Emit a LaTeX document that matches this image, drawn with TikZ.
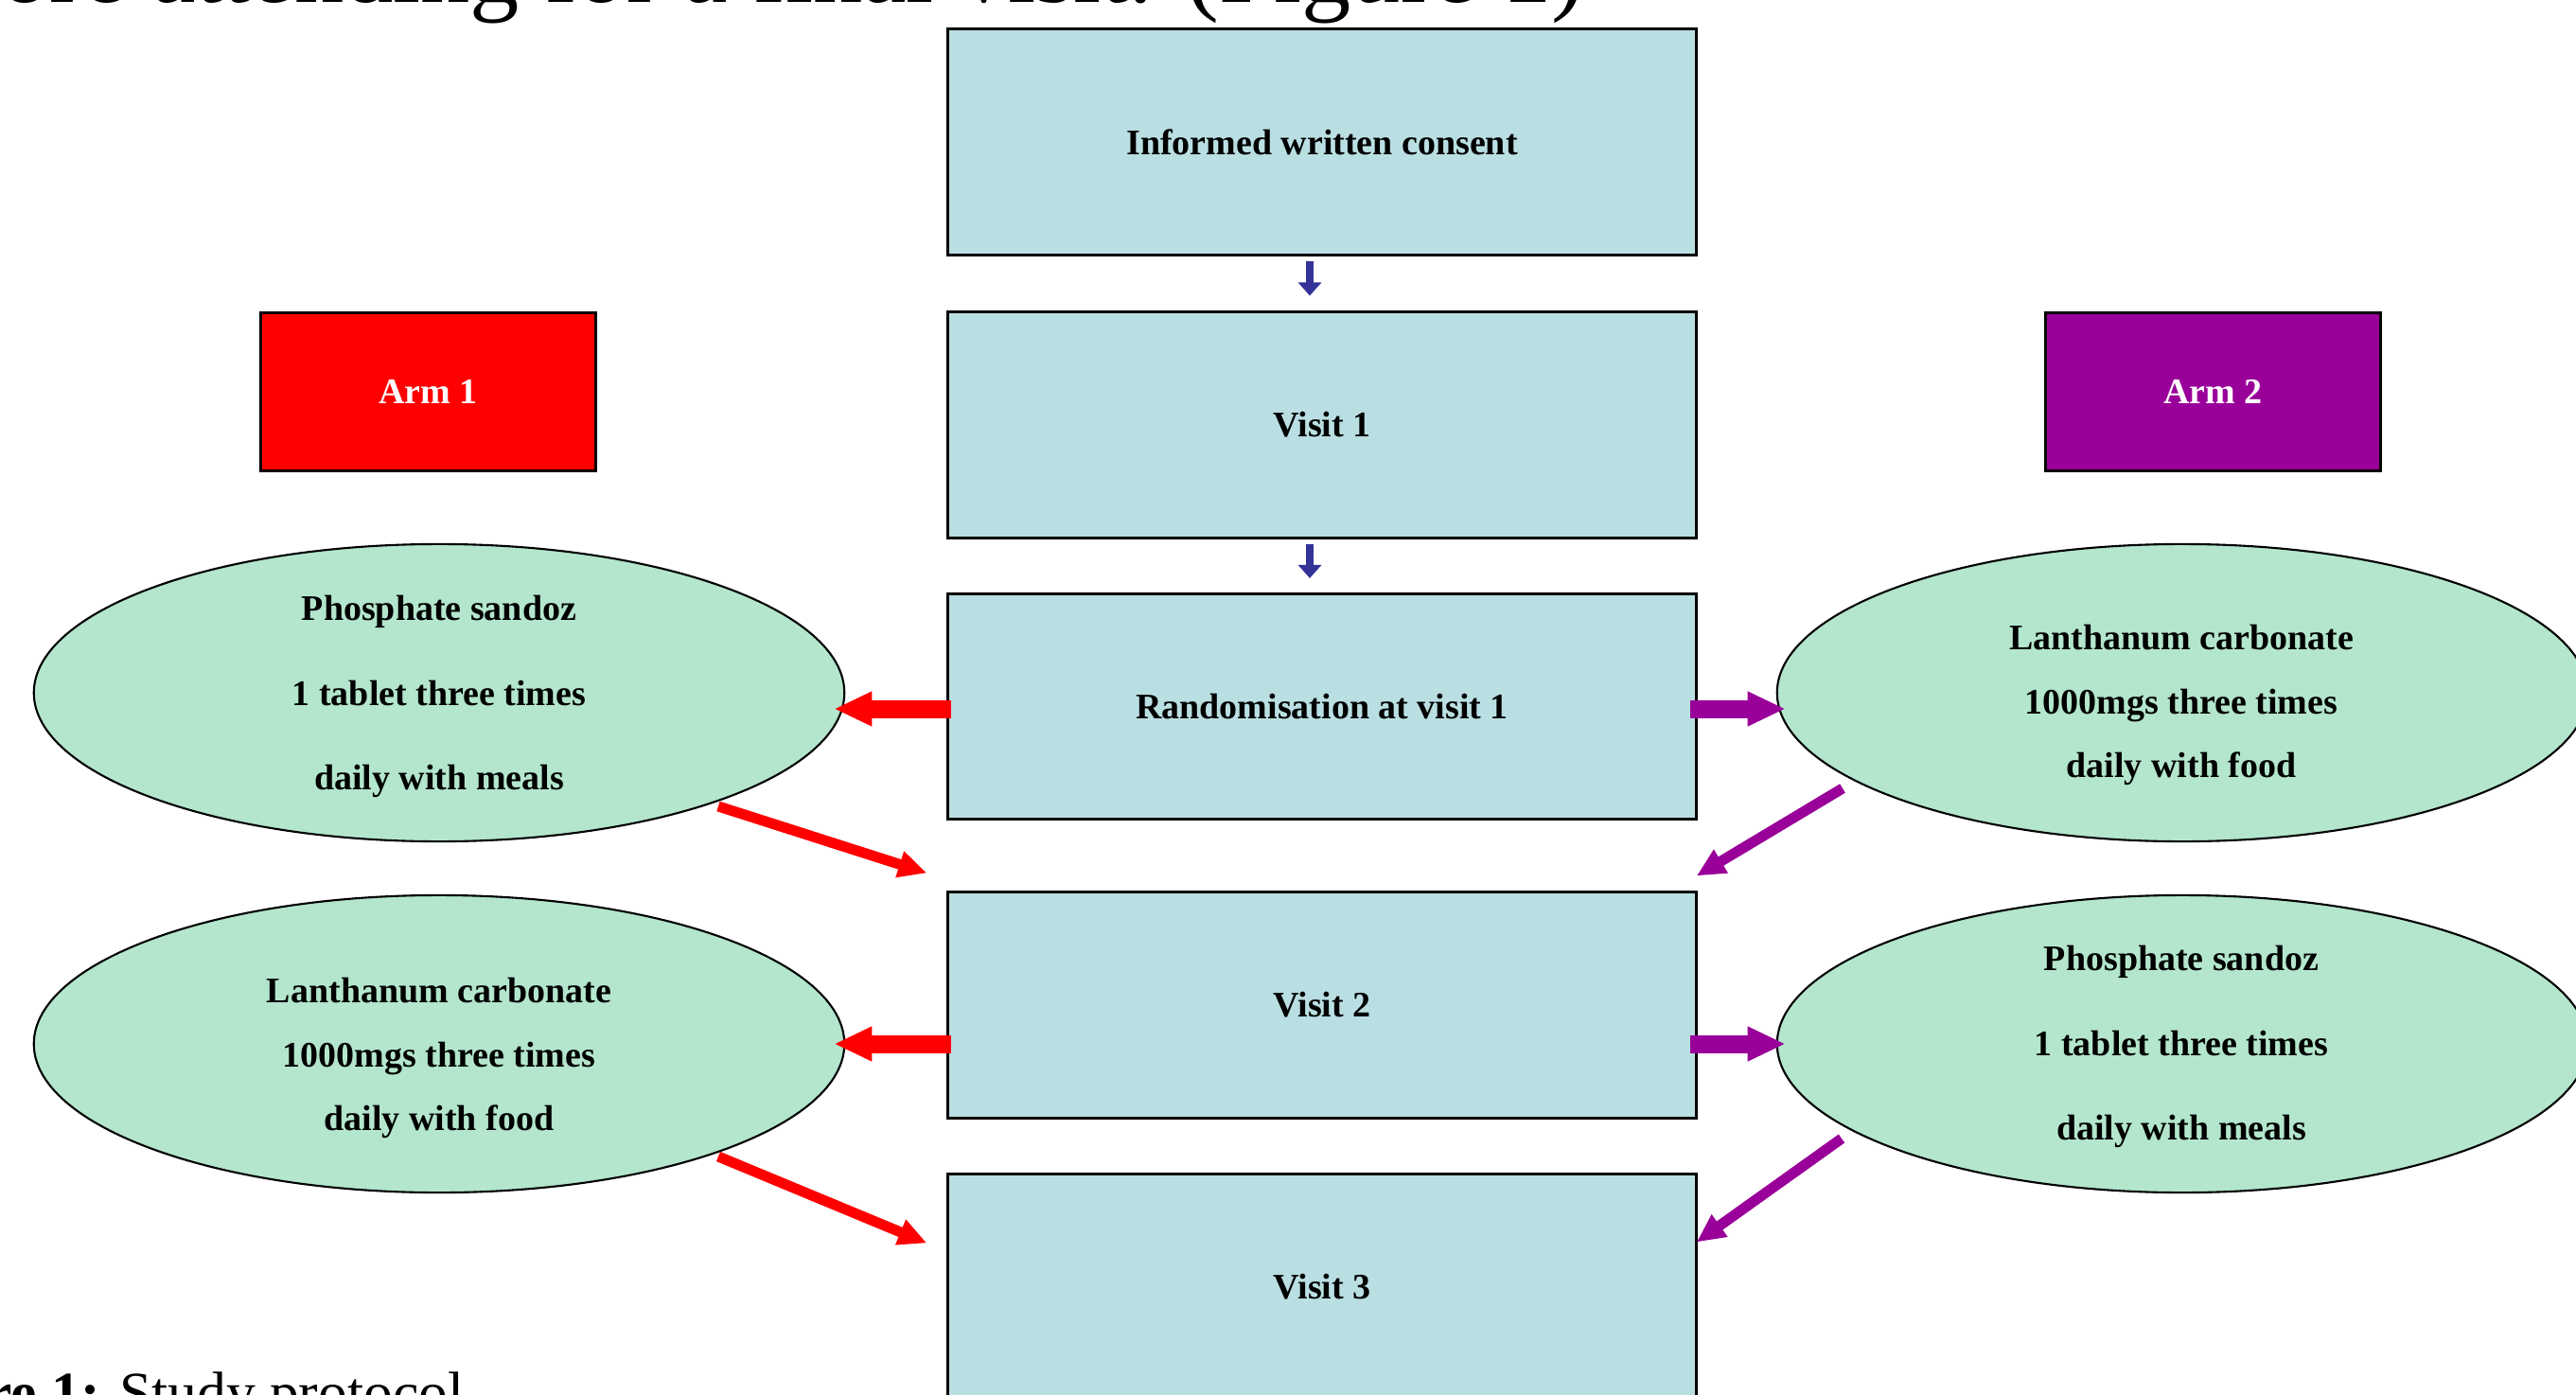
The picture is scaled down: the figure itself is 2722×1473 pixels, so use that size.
\documentclass[tikz,border=0pt]{standalone}
\usepackage{fontspec}
\setmainfont{Liberation Serif}
\usetikzlibrary{arrows.meta,shapes.geometric,calc}
\definecolor{boxfill}{HTML}{BADFE2}
\definecolor{ellfill}{HTML}{B3E6CC}
\definecolor{armpurple}{HTML}{990099}
\definecolor{arrblue}{HTML}{333399}
\begin{document}
\begin{tikzpicture}[x=0.01cm,y=-0.01cm,
  lbl/.style={font=\fontsize{10.8pt}{13pt}\selectfont\bfseries},
  stepbox/.style={draw=black, line width=0.85pt, fill=boxfill, minimum width=7.9cm, minimum height=2.38cm, inner sep=0pt, lbl},
  armbox/.style={draw=black, line width=0.85pt, minimum width=3.53cm, minimum height=1.67cm, inner sep=0pt, text=white, lbl},
  drug/.style={ellipse, draw=black, line width=0.6pt, fill=ellfill, minimum width=8.56cm, minimum height=3.14cm, inner sep=0pt},
  widetext/.style={align=center, font=\fontsize{10.8pt}{25.5pt}\selectfont\bfseries},
  tighttext/.style={align=center, font=\fontsize{10.8pt}{19.3pt}\selectfont\bfseries},
  downarr/.style={draw=arrblue, line width=0.08cm, -{Triangle[length=0.14cm,width=0.24cm]}},
  harr/.style={line width=0.19cm, -{Triangle[length=0.40cm,width=0.34cm]}},
  darr/.style={line width=0.11cm, -{Triangle[length=0.30cm,width=0.27cm]}}
]
\useasboundingbox (0,0) rectangle (2722,1473);
\clip (0,0) rectangle (2722,1473);

% page text
\node[anchor=base east, inner sep=0pt, font=\fontsize{29.7pt}{34pt}\selectfont] (toptext) at (1675,3) {ore attending for a final visit. (Figure 1)};
\node[anchor=base east, inner sep=0pt, font=\fontsize{17.5pt}{20pt}\selectfont] (caption) at (491,1492) {\textbf{Figure 1:} Study protocol};

% central steps
\node[stepbox] (b1) at (1397,150) {Informed written consent};
\node[stepbox] (b2) at (1397,449) {Visit 1};
\node[stepbox] (b3) at (1397,746.5) {Randomisation at visit 1};
\node[stepbox] (b4) at (1397,1062) {Visit 2};
\node[stepbox] (b5) at (1397,1360) {Visit 3};

% arms
\node[armbox, fill=red] (arm1) at (452.5,414) {Arm 1};
\node[armbox, fill=armpurple] (arm2) at (2338.5,414) {Arm 2};

% treatments
\node[drug] (el1) at (464,732) {};
\node[drug] (el2) at (464,1103) {};
\node[drug] (el3) at (2306,732) {};
\node[drug] (el4) at (2306,1103) {};
\node[widetext] (t1) at (464,736) {Phosphate sandoz\\1 tablet three times\\daily with meals};
\node[tighttext] (t2) at (464,1118) {Lanthanum carbonate\\1000mgs three times\\daily with food};
\node[tighttext] (t3) at (2305,745) {Lanthanum carbonate\\1000mgs three times\\daily with food};
\node[widetext] (t4) at (2305,1106) {Phosphate sandoz\\1 tablet three times\\daily with meals};

% vertical arrows
\draw[downarr] ($(b1.south)+(-13,5)$) -- ($(b2.north)+(-13,-16)$);
\draw[downarr] ($(b2.south)+(-13,5)$) -- ($(b3.north)+(-13,-15)$);

% horizontal arrows
\draw[harr, red] ($(b3.west)+(5,2.5)$) -- ($(b3.west -| el1.east)+(-12,2.5)$);
\draw[harr, red] ($(b4.west |- el2.center)+(5,0)$) -- ($(el2.east)+(-12,0)$);
\draw[harr, armpurple] ($(b3.east)+(-8,2.5)$) -- ($(b3.east -| el3.west)+(10,2.5)$);
\draw[harr, armpurple] ($(b4.east |- el4.center)+(-8,0)$) -- ($(el4.west)+(10,0)$);

% diagonal arrows
\coordinate (r1s) at ($(el1.center)+(295,120)$);
\coordinate (r1e) at ($(b4.north west)+(-21,-19)$);
\coordinate (r2s) at ($(el2.center)+(295,119)$);
\coordinate (r2e) at ($(b5.north west)+(-21,74)$);
\coordinate (p1s) at ($(el3.center)+(-359,101)$);
\coordinate (p1e) at ($(b4.north east)+(-1,-16)$);
\coordinate (p2s) at ($(el4.center)+(-360,100)$);
\coordinate (p2e) at ($(b5.north east)+(-1,73)$);
\draw[darr, red] (r1s) -- (r1e);
\draw[darr, red] (r2s) -- (r2e);
\draw[darr, armpurple] (p1s) -- (p1e);
\draw[darr, armpurple] (p2s) -- (p2e);
\end{tikzpicture}
\end{document}
